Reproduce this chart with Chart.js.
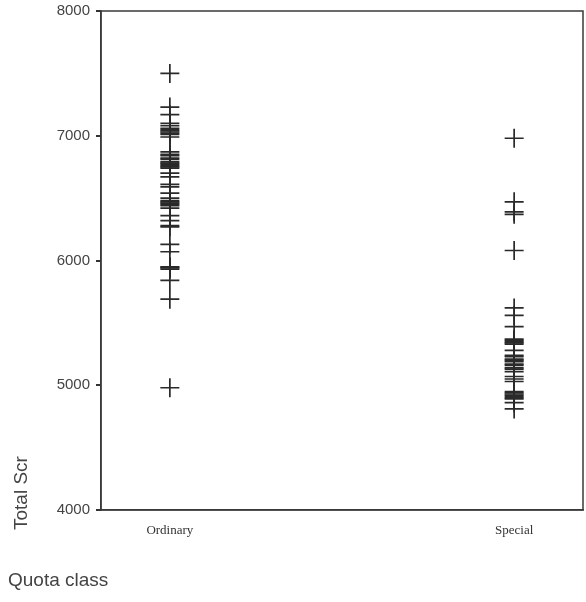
<!DOCTYPE html>
<html>
<head>
<meta charset="utf-8">
<script src="https://cdn.jsdelivr.net/npm/chart.js@4/dist/chart.umd.min.js"></script>
<style>
html,body{margin:0;padding:0;background:#fff;overflow:hidden;}
#wrap{width:586px;height:602px;}
canvas{display:block;}
</style>
</head>
<body>
<div id="wrap"><canvas id="c" width="586" height="602"></canvas></div>
<script>
const categories = ["Ordinary", "Special"];
const ordinaryScores = [7500, 7230, 7170, 7100, 7080, 7060, 7050, 7040, 7030, 7020, 7010, 6990, 6870, 6850, 6840, 6820, 6810, 6790, 6780, 6770, 6760, 6750, 6740, 6700, 6670, 6610, 6590, 6540, 6500, 6480, 6470, 6460, 6450, 6440, 6420, 6360, 6320, 6280, 6270, 6130, 6070, 5950, 5945, 5940, 5930, 5840, 5690, 4980];
const specialScores = [6980, 6470, 6390, 6370, 6080, 5620, 5560, 5470, 5370, 5360, 5350, 5340, 5330, 5280, 5240, 5230, 5210, 5200, 5190, 5170, 5160, 5140, 5130, 5110, 5070, 5050, 5030, 4950, 4940, 4930, 4920, 4910, 4900, 4890, 4860, 4810];
const yTicks = [4000, 5000, 6000, 7000, 8000];
const yTitle = "Total Scr";
const xTitle = "Quota class";

const points = [];
ordinaryScores.forEach(v => points.push({x: 0, y: v}));
specialScores.forEach(v => points.push({x: 1, y: v}));

const framePlugin = {
  id: 'frame',
  afterDraw(chart) {
    const ctx = chart.ctx, a = chart.chartArea;
    ctx.save();
    ctx.strokeStyle = '#3a3a3a';
    ctx.lineWidth = 1.5;
    ctx.strokeRect(a.left, a.top, a.right - a.left, a.bottom - a.top);
    ctx.fillStyle = '#444';
    ctx.font = '19px "Liberation Sans", Arial, sans-serif';
    ctx.textBaseline = 'middle';
    ctx.textAlign = 'left';
    ctx.fillText(xTitle, 8, 581);
    ctx.translate(22, 530);
    ctx.rotate(-Math.PI / 2);
    ctx.fillText(yTitle, 0, 0);
    ctx.restore();
  }
};

new Chart(document.getElementById('c'), {
  type: 'scatter',
  data: {
    datasets: [{
      data: points,
      pointStyle: 'cross',
      pointRadius: 9.5,
      pointHoverRadius: 9.5,
      borderColor: '#2a2a2a',
      backgroundColor: '#2a2a2a',
      borderWidth: 1.7
    }]
  },
  options: {
    responsive: false,
    animation: false,
    events: [],
    layout: {autoPadding: false, padding: {top: 11, right: 3, left: 0, bottom: 0}},
    plugins: {legend: {display: false}, tooltip: {enabled: false}},
    scales: {
      x: {
        type: 'linear',
        min: -0.2,
        max: 1.2,
        afterBuildTicks(scale) { scale.ticks = categories.map((c, i) => ({value: i})); },
        afterFit(scale) { scale.height = 92; scale.paddingLeft = 0; scale.paddingRight = 0; },
        ticks: {
          callback: (v) => categories[v] !== undefined ? categories[v] : '',
          font: {family: '"Liberation Serif", "Times New Roman", serif', size: 13},
          color: '#333',
          padding: 13,
          maxRotation: 0
        },
        grid: {drawOnChartArea: false, drawTicks: false},
        border: {display: true, color: '#3a3a3a', width: 1.5}
      },
      y: {
        min: 4000,
        max: 8000,
        afterBuildTicks(scale) { scale.ticks = yTicks.map(v => ({value: v})); },
        afterFit(scale) { scale.width = 101; scale.paddingTop = 0; scale.paddingBottom = 0; },
        ticks: {
          callback: (v) => String(v),
          font: {family: '"Liberation Sans", Arial, sans-serif', size: 15},
          color: '#444',
          padding: 6
        },
        grid: {drawOnChartArea: false, drawTicks: true, tickLength: 5, color: '#333', lineWidth: 2},
        border: {display: true, color: '#3a3a3a', width: 1.5}
      }
    }
  },
  plugins: [framePlugin]
});
</script>
</body>
</html>
